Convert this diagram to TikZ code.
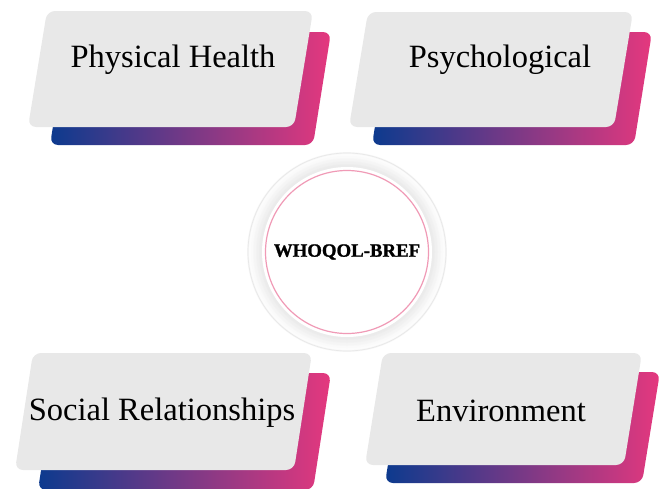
\documentclass[tikz,border=0pt]{standalone}
\usepackage{fontspec}
\setmainfont{Liberation Serif}
\newfontfamily\heavyfont{Liberation Serif Bold}[FakeBold=1.2]

\definecolor{cardgray}{HTML}{E8E8E8}
\definecolor{deepblue}{HTML}{0C3A8E}
\definecolor{hotpink}{HTML}{E5387E}
\definecolor{ringpink}{HTML}{F09AB6}

\begin{document}
\begin{tikzpicture}[x=1pt,y=-1pt,
  % slanted box: top y, bottom y, top-left x, width, slant
  slant/.style n args={5}{insert path={(#3,#1) -- (#3+#4,#1) -- (#3+#4-#5,#2) -- (#3-#5,#2) -- cycle}},
  card/.style={fill=cardgray, rounded corners=8pt},
  backing/.style={left color=deepblue, right color=hotpink, rounded corners=8pt},
  label/.style={font=\fontsize{32.5}{36}\selectfont, anchor=base, inner sep=0pt},
  core/.style={circle, draw=ringpink, line width=1.2pt, minimum size=163pt, inner sep=0pt,
               font=\heavyfont\fontsize{18.8}{22}\selectfont}]
\useasboundingbox (0,0) rectangle (664,488);

% gradient backings
\path[backing, slant={32}{145}{68}{263}{18}];
\path[backing, slant={32}{145}{390}{262}{18}];
\path[backing, slant={373}{490}{56}{275}{18}];
\path[backing, slant={372}{483}{403}{257}{18}];

% grey cards
\path[card, slant={11}{127}{47}{266}{19}];
\path[card, slant={12}{127}{368}{265}{19}];
\path[card, slant={353}{470}{33}{279}{18}];
\path[card, slant={353}{465}{383}{259}{18}];

% card labels
\node[label] (phys) at (173,67) {Physical Health};
\node[label] (psych) at (500,67) {Psychological};
\node[label] (social) at (162,420) {Social Relationships};
\node[label] (env) at (501,421) {Environment};

% central disc: faint outer rim, soft shadow band, white face
\coordinate (hub) at (347,252);
\fill[black!3] (hub) circle[radius=100];
\draw[black!9, line width=0.7pt] (hub) circle[radius=99];
\foreach \i in {0,...,12}{
  \pgfmathtruncatemacro\shade{1+0.65*\i}
  \fill[black!\shade] (hub) circle[radius=98-\i];
}
\fill[white] (hub) circle[radius=85];
\node[core] (who) at (hub) {WHOQOL-BREF};
\end{tikzpicture}
\end{document}
